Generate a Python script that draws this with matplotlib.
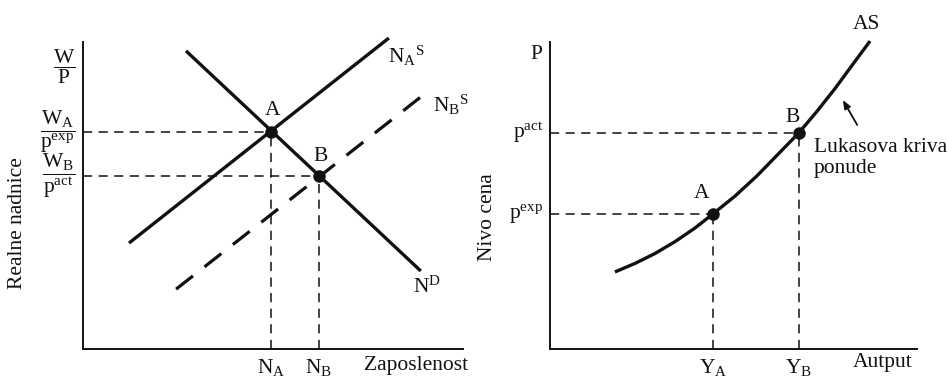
import matplotlib
matplotlib.use("Agg")
import matplotlib.pyplot as plt

plt.rcParams["font.family"] = ["Liberation Serif", "DejaVu Serif"]
plt.rcParams["mathtext.fontset"] = "custom"
plt.rcParams["mathtext.rm"] = "Liberation Serif"
plt.rcParams["mathtext.it"] = "Liberation Serif:italic"

INK = "#111111"
FS = 15.5

# Left panel: labour market (units 0..10 on both axes)
na_s_x = [1.21, 8.05]
na_s_y = [3.45, 10.13]
nd_x = [2.71, 8.89]
nd_y = [9.71, 2.54]
nb_s_x = [2.45, 8.95]
nb_s_y = [1.95, 8.27]
eq_x = [4.95, 6.21]   # A, B
eq_y = [7.07, 5.64]
eq_names = ["A", "B"]
n_ticks = [r"$\mathrm{N_A}$", r"$\mathrm{N_B}$"]
w_ticks = [r"$\dfrac{\mathrm{W_A}}{\mathrm{p^{exp}}}$",
           r"$\dfrac{\mathrm{W_B}}{\mathrm{p^{act}}}$"]

# Right panel: Lucas supply curve
as_x = [1.77, 2.32, 2.86, 3.41, 3.95, 4.44, 5.04, 5.64, 6.21, 6.78,
        7.28, 7.77, 8.23, 8.72]
as_y = [2.51, 2.79, 3.11, 3.50, 3.94, 4.40, 4.98, 5.64, 6.34, 7.04,
        7.75, 8.49, 9.24, 10.03]
pt_x = [4.44, 6.78]   # A, B
pt_y = [4.40, 7.04]
y_ticks = [r"$\mathrm{Y_A}$", r"$\mathrm{Y_B}$"]
p_ticks = [r"$\mathrm{p^{exp}}$", r"$\mathrm{p^{act}}$"]

fig = plt.figure(figsize=(9.47, 3.76), dpi=100)
ax1 = fig.add_axes([83 / 947, 27 / 376, 380 / 947, 307 / 376])
ax2 = fig.add_axes([550 / 947, 27 / 376, 367 / 947, 307 / 376])

for ax in (ax1, ax2):
    ax.set_xlim(0, 10)
    ax.set_ylim(0, 10)
    ax.spines["top"].set_visible(False)
    ax.spines["right"].set_visible(False)
    for s in ("left", "bottom"):
        ax.spines[s].set_linewidth(1.4)
        ax.spines[s].set_color(INK)
    ax.tick_params(length=0, labelsize=FS, colors=INK)
    ax.tick_params(axis="x", pad=6)
    ax.set_facecolor("none")

guide = dict(color=INK, lw=1.1, dashes=(6.0, 4.2), clip_on=False)

# left panel
ax1.plot(na_s_x, na_s_y, color=INK, lw=2.4, solid_capstyle="butt", clip_on=False)
ax1.plot(nd_x, nd_y, color=INK, lw=2.4, solid_capstyle="butt", clip_on=False)
ax1.plot(nb_s_x, nb_s_y, color=INK, lw=2.3, dashes=(6.7, 4.6), clip_on=False)
for x, y in zip(eq_x, eq_y):
    ax1.plot([0, x], [y, y], **guide)
    ax1.plot([x, x], [0, y], **guide)
ax1.plot(eq_x, eq_y, "o", color=INK, ms=8, clip_on=False, zorder=5)
for x, y, name in zip([5.0, 6.26], [7.62, 6.12], eq_names):
    ax1.text(x, y, name, ha="center", va="baseline", fontsize=FS, color=INK)

ax1.set_xticks(eq_x, labels=n_ticks)
ax1.set_yticks(eq_y, labels=w_ticks)
ax1.tick_params(axis="y", pad=6, labelsize=FS)
for lab in ax1.get_yticklabels():
    lab.set_va("center")

ax1.text(-0.21, 9.2, r"$\dfrac{\mathrm{W}}{\mathrm{P}}$", ha="right", va="center",
         fontsize=FS, color=INK, clip_on=False)
ax1.text(8.03, 9.32, r"$\mathrm{{N_A}^{S}}$", ha="left", va="baseline", fontsize=FS, color=INK)
ax1.text(9.21, 7.72, r"$\mathrm{{N_B}^{S}}$", ha="left", va="baseline", fontsize=FS, color=INK)
ax1.text(8.68, 1.82, r"$\mathrm{N^{D}}$", ha="left", va="baseline", fontsize=FS, color=INK)
ax1.text(7.39, -0.68, "Zaposlenost", ha="left", va="baseline", fontsize=FS, color=INK)
fig.text(18 / 947, 153 / 376, "Realne nadnice", rotation=90, ha="center", va="center",
         fontsize=FS, color=INK)

# right panel
ax2.plot(as_x, as_y, color=INK, lw=2.4, solid_capstyle="butt",
         solid_joinstyle="round", clip_on=False)
for x, y in zip(pt_x, pt_y):
    ax2.plot([0, x], [y, y], **guide)
    ax2.plot([x, x], [0, y], **guide)
ax2.plot(pt_x, pt_y, "o", color=INK, ms=8, clip_on=False, zorder=5)
for x, y, name in zip([4.14, 6.62], [4.92, 7.39], eq_names):
    ax2.text(x, y, name, ha="center", va="baseline", fontsize=FS, color=INK)

ax2.set_xticks(pt_x, labels=y_ticks)
ax2.set_yticks(pt_y, labels=p_ticks)
ax2.tick_params(axis="y", pad=5, labelsize=FS)
for lab in ax2.get_yticklabels():
    lab.set_va("center")

ax2.text(-0.38, 9.58, "P", ha="center", va="center", fontsize=FS, color=INK)
ax2.text(8.61, 10.42, "AS", ha="center", va="baseline", fontsize=FS, color=INK)
ax2.annotate("", xy=(7.98, 8.11), xytext=(8.37, 7.30),
             arrowprops=dict(arrowstyle="-|>,head_length=0.5,head_width=0.2",
                             color=INK, lw=1.3, shrinkA=0, shrinkB=0))
ax2.text(7.19, 6.42, "Lukasova kriva", ha="left", va="baseline", fontsize=FS, color=INK)
ax2.text(7.19, 5.73, "ponude", ha="left", va="baseline", fontsize=FS, color=INK)
ax2.text(8.26, -0.59, "Autput", ha="left", va="baseline", fontsize=FS, color=INK)
fig.text(487 / 947, 159 / 376, "Nivo cena", rotation=90, ha="center", va="center",
         fontsize=FS, color=INK)

fig.savefig("out.png", dpi=100)
